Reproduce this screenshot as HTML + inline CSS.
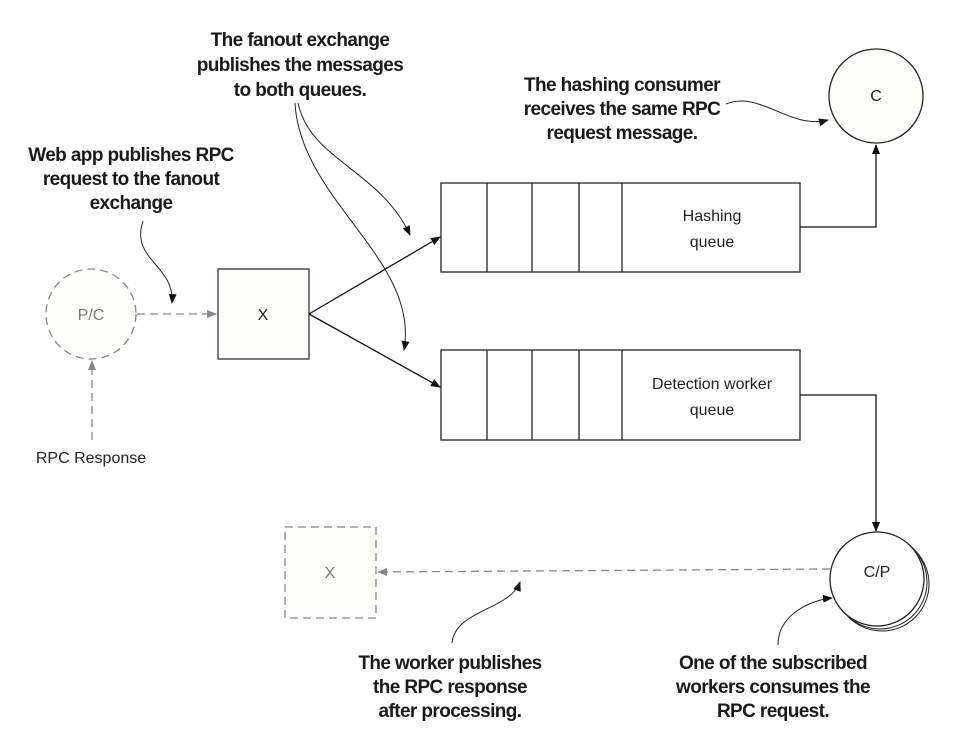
<!DOCTYPE html>
<html><head><style>
body{margin:0;background:#fff}
svg{display:block}
.l{font-family:"Liberation Sans",sans-serif;font-weight:bold;font-size:19px;fill:#1a1a1a;text-anchor:middle;letter-spacing:-0.6px}
.n{font-family:"Liberation Sans",sans-serif;font-size:16px;fill:#222;text-anchor:middle}
</style></head><body>
<svg width="958" height="750" viewBox="0 0 958 750" xmlns="http://www.w3.org/2000/svg">
<defs>
<marker id="a" markerWidth="10" markerHeight="8" refX="9" refY="4" orient="auto" markerUnits="userSpaceOnUse"><path d="M0,0L10,4L0,8z" fill="#111"/></marker>
<marker id="g" markerWidth="10" markerHeight="8" refX="9" refY="4" orient="auto" markerUnits="userSpaceOnUse"><path d="M0,0L10,4L0,8z" fill="#888"/></marker>
</defs>
<!-- labels -->
<text class="l" x="300" y="46">The fanout exchange</text>
<text class="l" x="300" y="71">publishes the messages</text>
<text class="l" x="300" y="96">to both queues.</text>
<text class="l" x="131" y="161">Web app publishes RPC</text>
<text class="l" x="131" y="185">request to the fanout</text>
<text class="l" x="131" y="209">exchange</text>
<text class="l" x="622" y="91">The hashing consumer</text>
<text class="l" x="622" y="115">receives the same RPC</text>
<text class="l" x="622" y="139">request message.</text>
<text class="l" x="450" y="669">The worker publishes</text>
<text class="l" x="450" y="693">the RPC response</text>
<text class="l" x="450" y="717">after processing.</text>
<text class="l" x="773" y="669">One of the subscribed</text>
<text class="l" x="773" y="693">workers consumes the</text>
<text class="l" x="773" y="717">RPC request.</text>
<!-- P/C -->
<circle cx="91" cy="314" r="45" fill="#fdfdfa" stroke="#888" stroke-width="1.3" stroke-dasharray="8,5"/>
<text class="n" x="91" y="320" fill="#777" style="fill:#777">P/C</text>
<line x1="92" y1="440" x2="92" y2="361" stroke="#888" stroke-width="1.3" stroke-dasharray="8,5" marker-end="url(#g)"/>
<text class="n" x="91" y="463">RPC Response</text>
<line x1="137" y1="314" x2="216" y2="314" stroke="#888" stroke-width="1.3" stroke-dasharray="8,5" marker-end="url(#g)"/>
<!-- X -->
<rect x="218" y="269" width="91" height="90" fill="#fdfdfa" stroke="#333" stroke-width="1.3"/>
<text class="n" x="263" y="320">X</text>
<line x1="309" y1="314" x2="440" y2="237" stroke="#111" stroke-width="1.3" marker-end="url(#a)"/>
<line x1="309" y1="314" x2="440" y2="387" stroke="#111" stroke-width="1.3" marker-end="url(#a)"/>
<!-- queues -->
<g fill="#fff" stroke="#222" stroke-width="1.3">
<rect x="441" y="183" width="359" height="89"/>
<rect x="441" y="350" width="359" height="90"/>
<path d="M487,183V272M532,183V272M579,183V272M622,183V272M487,350V440M532,350V440M579,350V440M622,350V440"/>
</g>
<text class="n" x="712" y="221" font-size="15">Hashing</text>
<text class="n" x="712" y="247" font-size="15">queue</text>
<text class="n" x="712" y="389" font-size="15">Detection worker</text>
<text class="n" x="712" y="415" font-size="15">queue</text>
<!-- C -->
<circle cx="876" cy="96" r="47" fill="#fdfdfa" stroke="#222" stroke-width="1.3"/>
<text class="n" x="876" y="101">C</text>
<polyline points="800,227 876,227 876,145" fill="none" stroke="#111" stroke-width="1.3" marker-end="url(#a)"/>
<polyline points="800,395 876,395 876,531" fill="none" stroke="#111" stroke-width="1.3" marker-end="url(#a)"/>
<!-- C/P -->
<circle cx="882" cy="584" r="47" fill="#fff" stroke="#222" stroke-width="1"/>
<circle cx="880" cy="582" r="47" fill="#fff" stroke="#222" stroke-width="1"/>
<circle cx="877" cy="579" r="47" fill="#fff" stroke="#222" stroke-width="1.3"/>
<text class="n" x="877" y="577">C/P</text>
<!-- dashed X -->
<rect x="285" y="527" width="91" height="91" fill="#fdfdfa" stroke="#888" stroke-width="1.3" stroke-dasharray="8,5"/>
<text class="n" x="330" y="578" style="fill:#777">X</text>
<line x1="830" y1="569" x2="378" y2="572" stroke="#888" stroke-width="1.3" stroke-dasharray="8,5" marker-end="url(#g)"/>
<!-- curved annotation arrows -->
<g fill="none" stroke="#222" stroke-width="1">
<path d="M298,103 C310,160 380,170 410,235" marker-end="url(#a)"/>
<path d="M295,103 C300,200 420,260 404,350" marker-end="url(#a)"/>
<path d="M143,221 C130,260 175,265 172,303" marker-end="url(#a)"/>
<path d="M726,104 C760,90 790,130 828,120" marker-end="url(#a)"/>
<path d="M452,643 C455,610 510,610 520,582" marker-end="url(#a)"/>
<path d="M778,645 C778,615 810,600 832,598" marker-end="url(#a)"/>
</g>
</svg>
</body></html>
